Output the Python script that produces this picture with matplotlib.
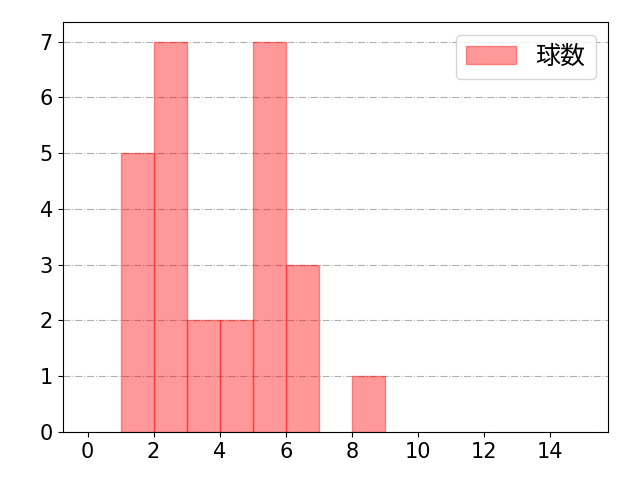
import matplotlib
matplotlib.use("Agg")
import matplotlib.pyplot as plt

plt.rcParams['font.family'] = ['DejaVu Sans', 'Noto Sans CJK JP']

# pitch-count histogram: left edge of each bin and its count
bin_lefts = [1, 2, 3, 4, 5, 6, 8]
counts = [5, 7, 2, 2, 7, 3, 1]
label = '球数'

fig = plt.figure(figsize=(6.4, 4.8), dpi=100)
ax = fig.add_axes([0.098, 0.1, 0.852, 0.854])

ax.bar(bin_lefts, counts, width=1, align='edge', color='red', alpha=0.4,
       edgecolor='red', linewidth=1, label=label)

ax.set_xlim(-0.75, 15.75)
ax.set_ylim(0, 7.35)
ax.set_xticks(range(0, 15, 2))
ax.set_yticks(range(0, 8))
ax.tick_params(labelsize=15)
ax.grid(True, axis='y', linestyle='-.', color='#b0b0b0', linewidth=0.8)
ax.set_axisbelow(True)
ax.legend(loc='upper right', fontsize=18)

fig.savefig('out.png', dpi=100)
